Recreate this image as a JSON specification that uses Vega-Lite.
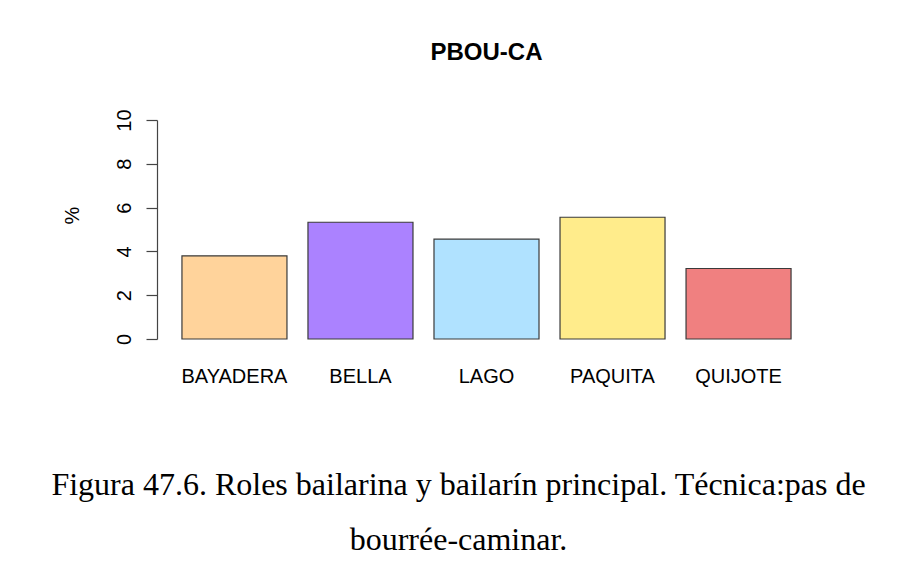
{
  "$schema": "https://vega.github.io/schema/vega-lite/v6.json",
  "width": 659,
  "height": 219,
  "autosize": {"type": "none"},
  "padding": {"left": 157, "top": 120, "right": 89, "bottom": 238},
  "background": "white",
  "config": {"view": {"stroke": null}},
  "title": {
    "text": "PBOU-CA",
    "font": "Liberation Sans",
    "fontSize": 24,
    "fontWeight": "bold",
    "color": "black",
    "anchor": "middle",
    "offset": 44
  },
  "data": {
    "values": [
      {"obra": "BAYADERA", "pct": 3.8},
      {"obra": "BELLA", "pct": 5.33},
      {"obra": "LAGO", "pct": 4.56},
      {"obra": "PAQUITA", "pct": 5.56},
      {"obra": "QUIJOTE", "pct": 3.22}
    ]
  },
  "mark": {"type": "bar", "stroke": "#3a3a3a", "strokeWidth": 1.2},
  "encoding": {
    "x": {
      "field": "obra",
      "type": "nominal",
      "sort": null,
      "scale": {"paddingInner": 0.1667, "paddingOuter": 0.198},
      "axis": {
        "domain": false,
        "ticks": false,
        "tickSize": 0,
        "labelAngle": 0,
        "labelFont": "Liberation Sans",
        "labelFontSize": 20,
        "labelColor": "black",
        "labelBaseline": "alphabetic",
        "labelPadding": 43,
        "title": ["Figura 47.6. Roles bailarina y bailarín principal. Técnica:pas de", "bourrée-caminar."],
        "titleFont": "Liberation Serif",
        "titleFontSize": 32,
        "titleFontWeight": "normal",
        "titleColor": "black",
        "titleBaseline": "alphabetic",
        "titleLineHeight": 55,
        "titleAlign": "center",
        "titleAnchor": null,
        "titleX": 301,
        "titleY": 155
      }
    },
    "y": {
      "field": "pct",
      "type": "quantitative",
      "scale": {"domain": [0, 10], "nice": false, "zero": true},
      "axis": {
        "values": [0, 2, 4, 6, 8, 10],
        "grid": false,
        "domainColor": "#444",
        "tickColor": "#444",
        "tickSize": 11,
        "domainWidth": 1.2,
        "tickWidth": 1.2,
        "labelAngle": -90,
        "labelAlign": "center",
        "labelBaseline": "alphabetic",
        "labelPadding": 16,
        "labelFont": "Liberation Sans",
        "labelFontSize": 20,
        "labelColor": "black",
        "title": "%",
        "titleFont": "Liberation Sans",
        "titleFontSize": 20,
        "titleFontWeight": "normal",
        "titleColor": "black",
        "titleAngle": -90,
        "titleAlign": "center",
        "titleBaseline": "alphabetic",
        "titleX": -79,
        "titleY": 95
      }
    },
    "color": {
      "field": "obra",
      "type": "nominal",
      "sort": null,
      "scale": {
        "domain": ["BAYADERA", "BELLA", "LAGO", "PAQUITA", "QUIJOTE"],
        "range": ["#FFD39B", "#AB82FF", "#B0E2FF", "#FFEC8B", "#F08080"]
      },
      "legend": null
    }
  }
}
